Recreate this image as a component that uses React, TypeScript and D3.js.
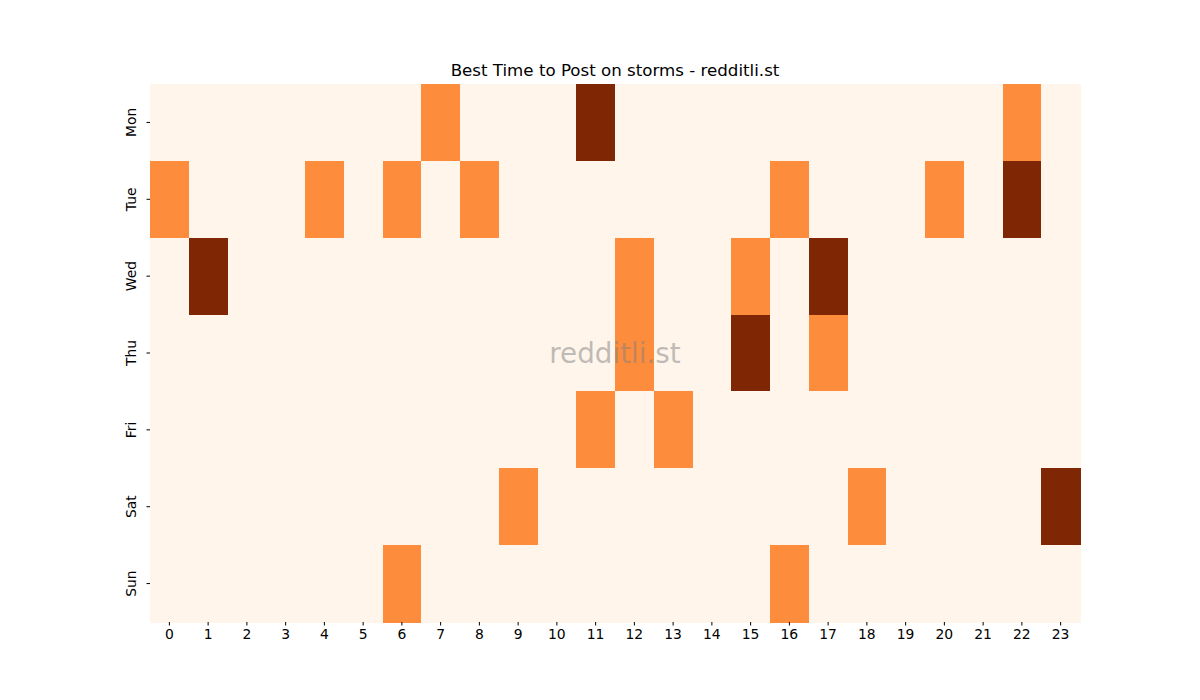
import React, { useEffect, useRef } from 'react'
import * as d3 from 'd3'

const days = ['Mon', 'Tue', 'Wed', 'Thu', 'Fri', 'Sat', 'Sun']
const hours = d3.range(24).map(String)

// level per day (row) and hour (column): 0 = none, 1 = good, 2 = best
const mon = [0, 0, 0, 0, 0, 0, 0, 1, 0, 0, 0, 2, 0, 0, 0, 0, 0, 0, 0, 0, 0, 0, 1, 0]
const tue = [1, 0, 0, 0, 1, 0, 1, 0, 1, 0, 0, 0, 0, 0, 0, 0, 1, 0, 0, 0, 1, 0, 2, 0]
const wed = [0, 2, 0, 0, 0, 0, 0, 0, 0, 0, 0, 0, 1, 0, 0, 1, 0, 2, 0, 0, 0, 0, 0, 0]
const thu = [0, 0, 0, 0, 0, 0, 0, 0, 0, 0, 0, 0, 1, 0, 0, 2, 0, 1, 0, 0, 0, 0, 0, 0]
const fri = [0, 0, 0, 0, 0, 0, 0, 0, 0, 0, 0, 1, 0, 1, 0, 0, 0, 0, 0, 0, 0, 0, 0, 0]
const sat = [0, 0, 0, 0, 0, 0, 0, 0, 0, 1, 0, 0, 0, 0, 0, 0, 0, 0, 1, 0, 0, 0, 0, 2]
const sun = [0, 0, 0, 0, 0, 0, 1, 0, 0, 0, 0, 0, 0, 0, 0, 0, 1, 0, 0, 0, 0, 0, 0, 0]
const levels = [mon, tue, wed, thu, fri, sat, sun]

export default function App() {
  const ref = useRef<SVGSVGElement>(null)

  useEffect(() => {
    const svg = d3.select(ref.current)
    svg.selectAll('*').remove()

    const left = 150, right = 1080, top = 84, bottom = 622
    const font = 'DejaVu Sans, sans-serif'

    const x = d3.scaleBand().domain(hours).range([left, right])
    const y = d3.scaleBand().domain(days).range([top, bottom])
    const color = d3.scaleOrdinal<number, string>()
      .domain([0, 1, 2])
      .range(['#fff5eb', '#fd8d3c', '#7f2704'])

    const cells = levels.flatMap((row, i) =>
      row.map((v, j) => ({ day: days[i], hour: hours[j], v })))

    svg.append('g')
      .selectAll('rect')
      .data(cells)
      .enter().append('rect')
      .attr('x', d => x(d.hour)!)
      .attr('y', d => y(d.day)!)
      .attr('width', x.bandwidth() + 0.5)
      .attr('height', y.bandwidth() + 0.5)
      .attr('fill', d => color(d.v))
      .attr('shape-rendering', 'crispEdges')

    // x axis
    const xAxis = svg.append('g')
      .attr('transform', `translate(0,${bottom})`)
      .call(d3.axisBottom(x).tickSize(3.5).tickPadding(3.5))
    xAxis.select('.domain').remove()
    xAxis.selectAll('text').attr('font-size', 13.9).attr('font-family', font).attr('fill', '#000')

    // y axis, labels rotated
    const yAxis = svg.append('g')
      .attr('transform', `translate(${left},0)`)
      .call(d3.axisLeft(y).tickSize(3.5).tickPadding(3.5))
    yAxis.select('.domain').remove()
    yAxis.selectAll<SVGTextElement, string>('text')
      .attr('x', null)
      .attr('dy', null)
      .attr('font-size', 13.9)
      .attr('font-family', font)
      .attr('fill', '#000')
      .attr('text-anchor', 'middle')
      .attr('transform', 'translate(-14,0) rotate(-90)')

    svg.append('text')
      .attr('x', (left + right) / 2)
      .attr('y', 76)
      .attr('text-anchor', 'middle')
      .attr('font-size', 16.67)
      .attr('font-family', font)
      .text('Best Time to Post on storms - redditli.st')

    svg.append('text')
      .attr('x', (left + right) / 2)
      .attr('y', (top + bottom) / 2)
      .attr('dy', '0.35em')
      .attr('text-anchor', 'middle')
      .attr('font-size', 27.8)
      .attr('font-family', font)
      .attr('fill', '#808080')
      .attr('fill-opacity', 0.5)
      .text('redditli.st')
  }, [])

  return (
    <svg ref={ref} width={1200} height={700}
      style={{ position: 'absolute', left: 0, top: 0, background: '#fff' }} />
  )
}
